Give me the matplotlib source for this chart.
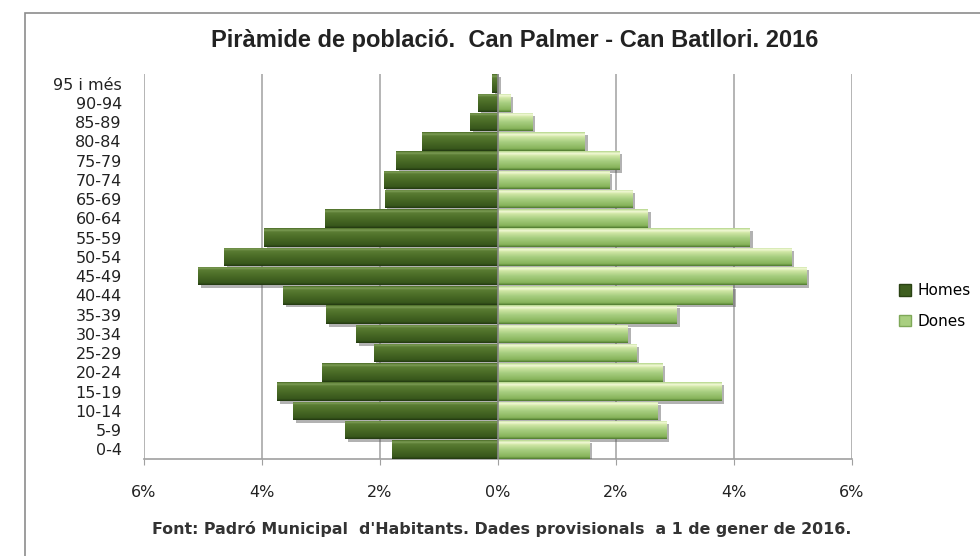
import matplotlib
matplotlib.use("Agg")
import matplotlib.pyplot as plt
import numpy as np
from matplotlib.colors import LinearSegmentedColormap
from matplotlib.patches import Rectangle, Patch
import matplotlib.patheffects as pe

# Age groups, bottom to top
ages = ['0-4', '5-9', '10-14', '15-19', '20-24', '25-29', '30-34', '35-39',
        '40-44', '45-49', '50-54', '55-59', '60-64', '65-69', '70-74',
        '75-79', '80-84', '85-89', '90-94', '95 i més']

# Share of total population (%)
homes = [1.79, 2.59, 3.47, 3.75, 2.99, 2.11, 2.40, 2.91, 3.64, 5.08,
         4.64, 3.96, 2.93, 1.92, 1.94, 1.73, 1.28, 0.47, 0.34, 0.10]
dones = [1.55, 2.85, 2.71, 3.79, 2.79, 2.34, 2.20, 3.03, 3.98, 5.23,
         4.97, 4.27, 2.54, 2.28, 1.89, 2.06, 1.47, 0.58, 0.21, 0.0]

xticks = [-6, -4, -2, 0, 2, 4, 6]
xtick_labels = ['6%', '4%', '2%', '0%', '2%', '4%', '6%']

fig = plt.figure(figsize=(9.8, 5.56), dpi=100)
ax = fig.add_axes([144 / 980, 97 / 556, 708 / 980, 385 / 556])

y = np.arange(len(ages))
shadow = [pe.SimplePatchShadow(offset=(2, -2), shadow_rgbFace='#555555', alpha=0.45), pe.Normal()]

bars_h = ax.barh(y, -np.array(homes), height=0.95, color='#4d6f29', zorder=3)
bars_d = ax.barh(y, dones, height=0.95, color='#aed287', zorder=3)
for b in list(bars_h) + list(bars_d):
    b.set_path_effects(shadow)


def shade(bars, stops):
    # vertical gradient clipped to each bar, to mimic the bevelled Excel look
    cmap = LinearSegmentedColormap.from_list('bar', stops)
    grad = np.linspace(0, 1, 64).reshape(-1, 1)
    for b in bars:
        x0, x1 = sorted([b.get_x(), b.get_x() + b.get_width()])
        if x1 - x0 <= 0:
            continue
        y0, y1 = b.get_y(), b.get_y() + b.get_height()
        im = ax.imshow(grad, cmap=cmap, aspect='auto', origin='lower',
                       extent=(x0, x1, y0, y1), zorder=3.5)
        im.set_clip_path(b)


shade(bars_h, [(0, '#223810'), (0.12, '#38571c'), (0.5, '#4a6b26'),
               (0.8, '#5a7c33'), (0.9, '#7d9d55'), (1, '#4c6d28')])
shade(bars_d, [(0, '#4f7a2e'), (0.12, '#86b35a'), (0.5, '#a9cf82'),
               (0.76, '#d0e7a6'), (0.88, '#f3f9d6'), (1, '#b5d78c')])

ax.set_xlim(-6, 6)
ax.set_ylim(-0.5, len(ages) - 0.5)

ax.set_xticks(xticks)
ax.set_xticklabels(xtick_labels)
ax.set_yticks(y)
ax.set_yticklabels(ages)
ax.tick_params(axis='y', length=0, pad=16, labelsize=11.5, labelcolor='#222222')
ax.tick_params(axis='x', length=4, color='#a0a0a0', pad=15, labelsize=11.5, labelcolor='#222222')
for t in ax.get_xticklabels() + ax.get_yticklabels():
    t.set_family('DejaVu Sans')

for s in ['top', 'right', 'left']:
    ax.spines[s].set_visible(False)
ax.spines['bottom'].set_color('#a0a0a0')
ax.spines['bottom'].set_linewidth(1.2)

ax.grid(axis='x', color='#a8a8a8', linewidth=1.2, zorder=0)
ax.axvline(0, color='#8a8a8a', linewidth=1.2, zorder=4)

fig.text(515 / 980, 1 - 40 / 556, 'Piràmide de població.  Can Palmer - Can Batllori. 2016',
         ha='center', va='center', fontsize=17, fontweight='bold',
         family='Liberation Sans', color='#222222')
fig.text(502 / 980, 1 - 529 / 556,
         "Font: Padró Municipal  d'Habitants. Dades provisionals  a 1 de gener de 2016.",
         ha='center', va='center', fontsize=11.4, fontweight='bold',
         family='DejaVu Sans', color='#333333')

# outer chart frame (cut off on the right and bottom)
fig.patches.append(Rectangle((24.5 / 980, -0.1), 2, 1 - 12.5 / 556 + 0.1,
                             transform=fig.transFigure, fill=False,
                             edgecolor='#8c8c8c', linewidth=1.2))

handles = [Patch(facecolor='#3f5f20', edgecolor='#2a4214', label='Homes'),
           Patch(facecolor='#a9cf80', edgecolor='#7fa858', label='Dones')]
fig.legend(handles=handles, loc='center left', bbox_to_anchor=(896 / 980, 1 - 306 / 556),
           frameon=False, handlelength=0.75, handleheight=0.75, handletextpad=0.45,
           labelspacing=1.0, borderaxespad=0, borderpad=0.2,
           prop={'family': 'DejaVu Sans', 'size': 11})

fig.savefig('out.png', dpi=100)
